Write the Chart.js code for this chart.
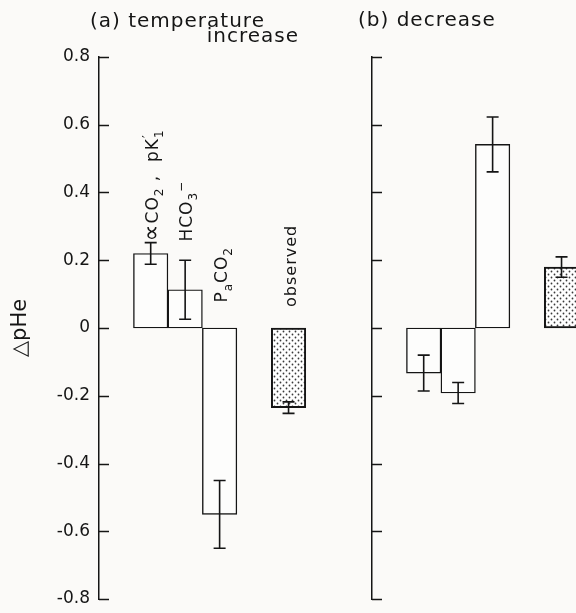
<!DOCTYPE html>
<html>
<head>
<meta charset="utf-8">
<script src="https://cdn.jsdelivr.net/npm/chart.js@4.4.1/dist/chart.umd.min.js"></script>
<style>
  html, body { margin: 0; padding: 0; background: #fbfaf8; width: 576px; height: 613px; overflow: hidden; }
  canvas { position: absolute; top: 0; }
  #chart-a { left: 0; }
  #chart-b { left: 322px; }
</style>
</head>
<body>
<canvas id="chart-a" width="330" height="613"></canvas>
<canvas id="chart-b" width="280" height="613"></canvas>
<script>
// values (delta pHe); _x = subscript, ^x = superscript
const factorLabels = ['∝CO_2 ,  pK^′_1', 'HCO_3^−', 'P_aCO_2'];
const observedLabel = ['observed'];
const factorSlots = [1, 2, 3];
const observedSlot = [5];

const riseValues = [0.22, 0.113, -0.55];
const riseErrors = [0.032, 0.087, 0.1];
const riseObserved = [-0.235];
const riseObservedErr = [0.017];

const dropValues = [-0.133, -0.192, 0.542];
const dropErrors = [0.053, 0.031, 0.081];
const dropObserved = [0.18];
const dropObservedErr = [0.03];

// where the rotated labels start (in delta pHe units)
const labelStart = [0.255, 0.255, 0.075, 0.062];

const ink = '#151515';
const font = 'DejaVu Sans';

function dotPattern() {
  const c = document.createElement('canvas');
  c.width = 6; c.height = 6;
  const g = c.getContext('2d');
  g.fillStyle = '#ffffff';
  g.fillRect(0, 0, 6, 6);
  g.fillStyle = '#3a3a3a';
  g.beginPath(); g.arc(1.5, 1.5, 0.9, 0, Math.PI * 2); g.fill();
  g.beginPath(); g.arc(4.5, 4.5, 0.9, 0, Math.PI * 2); g.fill();
  return g.createPattern(c, 'repeat');
}

// draws "CO_2" style text along the current baseline
function richText(ctx, str, size) {
  const big = size + 'px "' + font + '"', small = '12px "' + font + '"';
  let x = 0, i = 0;
  while (i < str.length) {
    const ch = str[i];
    if (ch === '^' || ch === '_') {
      let w = 0;
      ctx.font = small;
      if (ch === '^') {
        ctx.fillText(str[i + 1], x, -7);
        w = ctx.measureText(str[i + 1]).width;
        i += 2;
        if (str[i] === '_') {
          ctx.fillText(str[i + 1], x, 5);
          w = Math.max(w, ctx.measureText(str[i + 1]).width);
          i += 2;
        }
      } else {
        ctx.fillText(str[i + 1], x, 5);
        w = ctx.measureText(str[i + 1]).width;
        i += 2;
      }
      x += w + 1;
    } else {
      ctx.font = ch === '∝' ? '24px "' + font + '"' : big;
      ctx.fillText(ch, x, ch === '∝' ? 1 : 0);
      x += ctx.measureText(ch).width + 1;
      i += 1;
    }
  }
}

const panelDecor = {
  id: 'panelDecor',
  afterDatasetsDraw(chart, args, opts) {
    const ctx = chart.ctx;
    const y = chart.scales.y;
    const left = chart.chartArea.left;
    ctx.save();
    ctx.strokeStyle = ink;
    ctx.fillStyle = ink;

    // short ticks pointing into the plot
    ctx.lineWidth = 1.5;
    y.ticks.forEach(t => {
      const py = Math.round(y.getPixelForValue(t.value)) + 0.5;
      ctx.beginPath(); ctx.moveTo(left, py); ctx.lineTo(left + 10, py); ctx.stroke();
    });

    // error bars
    ctx.lineWidth = 1.6;
    opts.errors.forEach((errs, di) => {
      const meta = chart.getDatasetMeta(di);
      meta.data.forEach((bar, i) => {
        const v = chart.data.datasets[di].data[i].y;
        const top = y.getPixelForValue(v + errs[i]);
        const bot = y.getPixelForValue(v - errs[i]);
        ctx.beginPath();
        ctx.moveTo(bar.x, top); ctx.lineTo(bar.x, bot);
        ctx.moveTo(bar.x - 6, top); ctx.lineTo(bar.x + 6, top);
        ctx.moveTo(bar.x - 6, bot); ctx.lineTo(bar.x + 6, bot);
        ctx.stroke();
      });
    });

    // rotated category labels
    if (opts.labels) {
      ctx.textAlign = 'left';
      ctx.textBaseline = 'alphabetic';
      let k = 0;
      opts.labels.forEach((labs, di) => {
        const meta = chart.getDatasetMeta(di);
        labs.forEach((txt, i) => {
          const bar = meta.data[i];
          const py = y.getPixelForValue(labelStart[k++]);
          ctx.save();
          ctx.translate(bar.x + 7, py);
          ctx.rotate(-Math.PI / 2);
          richText(ctx, txt, di === 0 ? 17 : 16);
          ctx.restore();
        });
      });
    }

    // panel titles
    ctx.font = '20px "' + font + '"';
    ctx.letterSpacing = '1px';
    ctx.textBaseline = 'alphabetic';
    opts.titles.forEach(t => {
      ctx.textAlign = t.align;
      ctx.fillText(t.text, t.x, t.y);
    });
    ctx.restore();
  }
};

function makeChart(id, values, observed, errs, obsErr, opts) {
  const pattern = dotPattern();
  return new Chart(document.getElementById(id), {
    type: 'bar',
    data: {
      datasets: [
        {
          data: factorSlots.map((s, i) => ({ x: s, y: values[i] })),
          backgroundColor: '#fdfdfc',
          borderColor: ink,
          borderWidth: 1.4,
          borderSkipped: false,
          grouped: false,
          barPercentage: 1,
          categoryPercentage: 1
        },
        {
          data: observedSlot.map((s, i) => ({ x: s, y: observed[i] })),
          backgroundColor: pattern,
          borderColor: ink,
          borderWidth: 2,
          borderSkipped: false,
          grouped: false,
          barPercentage: 1,
          categoryPercentage: 1
        }
      ]
    },
    options: {
      responsive: false,
      animation: false,
      layout: { padding: { top: 57, bottom: 14, right: opts.padRight, left: 0 } },
      plugins: {
        legend: { display: false },
        tooltip: { enabled: false },
        panelDecor: {
          errors: [errs, obsErr],
          labels: opts.labels,
          titles: opts.titles
        }
      },
      scales: {
        x: {
          type: 'linear',
          min: -0.5,
          max: 6,
          offset: false,
          display: false
        },
        y: {
          min: -0.8,
          max: 0.8,
          afterFit: s => { s.width = opts.axisWidth; s.paddingTop = 0; s.paddingBottom = 0; },
          grid: { display: false, drawTicks: false },
          border: { display: true, color: ink, width: 1.5 },
          ticks: {
            display: opts.showTicks,
            stepSize: 0.2,
            padding: 9,
            color: ink,
            font: { family: font, size: 17 },
            callback: v => Math.abs(v) < 1e-9 ? '0' : v.toFixed(1)
          },
          title: {
            display: opts.showTicks,
            text: '△pHe',
            color: ink,
            font: { family: font, size: 21 },
            padding: { top: 8, bottom: 0 }
          }
        }
      }
    },
    plugins: [panelDecor]
  });
}

makeChart('chart-a', riseValues, riseObserved, riseErrors, riseObservedErr, {
  axisWidth: 99,
  padRight: 7,
  showTicks: true,
  labels: [factorLabels, observedLabel],
  titles: [
    { text: '(a) temperature', x: 90, y: 27, align: 'left' },
    { text: 'increase', x: 299, y: 42, align: 'right' }
  ]
});

makeChart('chart-b', dropValues, dropObserved, dropErrors, dropObservedErr, {
  axisWidth: 50,
  padRight: 6,
  showTicks: false,
  labels: null,
  titles: [
    { text: '(b) decrease', x: 36, y: 26, align: 'left' }
  ]
});
</script>
</body>
</html>
